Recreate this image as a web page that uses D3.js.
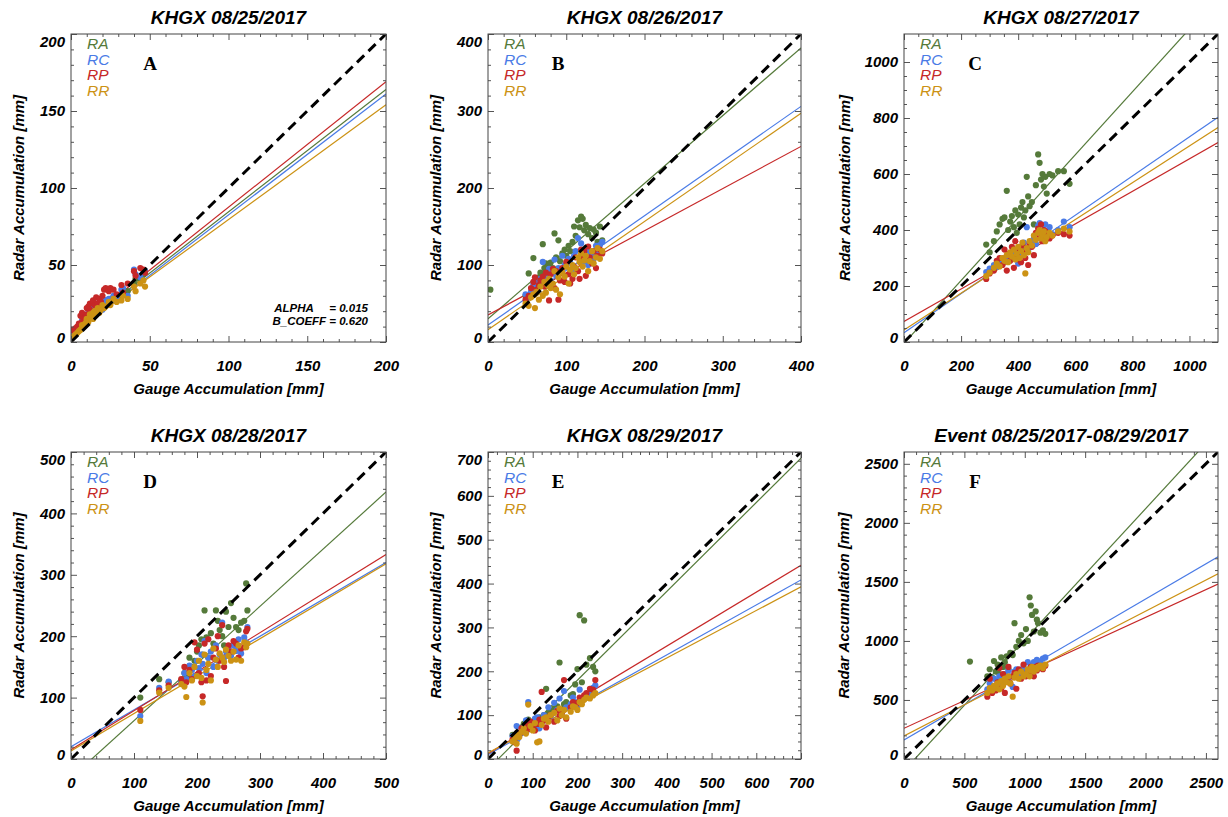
<!DOCTYPE html>
<html lang="en">
<head>
<meta charset="utf-8">
<title>Radar vs Gauge Accumulation - KHGX</title>
<script src="https://d3js.org/d3.v7.min.js"></script>
<style>
  body { margin: 0; background: #fff; }
  text { font-family: "Liberation Sans", Arial, Helvetica, sans-serif; }
</style>
</head>
<body>
<script>
var w = 1228, h = 817;

var seriesNames = ["RA", "RC", "RP", "RR"];
var seriesColors = ["#557a3a", "#4a7be6", "#c62828", "#cc9214"];

var titles = ["KHGX 08/25/2017", "KHGX 08/26/2017", "KHGX 08/27/2017",
              "KHGX 08/28/2017", "KHGX 08/29/2017", "Event 08/25/2017-08/29/2017"];
var letters = ["A", "B", "C", "D", "E", "F"];
var axisMax = [200, 400, 1100, 500, 700, 2600];
var majorStep = [50, 100, 200, 100, 100, 500];
var minorStep = [10, 20, 50, 20, 20, 100];
var noteLines = ["ALPHA     = 0.015", "B_COEFF = 0.620"];

// ---- panel A (08/25) ----
var gaugeA = [1, 2, 3, 4, 5, 6, 7, 7, 8, 9, 10, 10, 11, 12, 12, 13, 14, 14, 15, 16, 17, 18, 19, 20, 21, 22, 24, 25, 27, 29, 32, 33, 36, 40, 41, 44, 46, 47];
var raA = [4, 5, 6, 7, 8, 8, 10, 12, 11, 13, 14, 16, 15, 17, 19, 18, 20, 16, 21, 19, 22, 20, 24, 23, 25, 27, 26, 28, 29, 27, 30, 31, 33, 38, 41, 40, 44, 45];
var rcA = [5, 6, 5, 8, 9, 10, 9, 14, 12, 12, 15, 18, 17, 22, 16, 24, 19, 21, 23, 18, 25, 22, 24, 21, 26, 27, 28, 27, 30, 29, 34, 35, 30, 47, 44, 42, 45, 46];
var rpA = [8, 7, 9, 10, 12, 17, 13, 19, 15, 16, 18, 22, 23, 21, 25, 20, 26, 27, 24, 29, 25, 28, 26, 30, 34, 35, 33, 35, 34, 31, 37, 32, 38, 46, 43, 48, 47, 45];
var rrA = [3, 4, 5, 6, 7, 8, 9, 11, 10, 12, 14, 15, 13, 16, 18, 17, 19, 15, 20, 18, 22, 19, 21, 24, 22, 23, 26, 24, 28, 26, 27, 30, 28, 36, 33, 38, 40, 36];
var fitA = [[5, 0.795], [4, 0.785], [6, 0.815], [5, 0.745]];   // [intercept, slope] RA RC RP RR

// ---- panel B (08/26) ----
var gaugeB = [3, 48, 52, 55, 58, 60, 62, 65, 67, 70, 72, 74, 76, 78, 80, 83, 85, 87, 90, 92, 95, 98, 100, 103, 105, 108, 110, 112, 115, 117, 119, 121, 123, 125, 128, 130, 133, 135, 138, 140, 143, 146];
var raB = [68, 60, 89, 62, 109, 72, 80, 84, 90, 127, 96, 102, 92, 99, 103, 96, 141, 110, 132, 105, 115, 120, 112, 125, 118, 130, 150, 138, 158, 149, 163, 160, 145, 152, 140, 148, 135, 146, 142, 130, 150, 132];
var rcB = [null, 62, 58, 66, 75, 70, 78, 72, 82, 104, 76, 84, 88, 95, 80, 90, 107, 86, 96, 92, 112, 100, 98, 108, 103, 92, 112, 118, 135, 110, 128, 115, 105, 120, 100, 118, 112, 108, 125, 115, 126, 130];
var rpB = [null, 55, 60, 70, 78, 84, 68, 74, 80, 85, 72, 90, 76, 54, 88, 95, 70, 92, 55, 80, 96, 78, 104, 88, 76, 82, 98, 110, 92, 82, 120, 108, 118, 86, 124, 110, 102, 118, 96, 112, 120, 115];
var rrB = [null, 50, 47, 58, 62, 44, 65, 55, 72, 60, 78, 64, 74, 82, 70, 76, 92, 68, 84, 62, 90, 85, 98, 76, 94, 100, 88, 96, 110, 104, 115, 98, 106, 112, 92, 105, 118, 102, 110, 122, 108, 118];
var fitB = [[30, 0.88], [22, 0.71], [35, 0.5475], [16, 0.7025]];

// ---- panel C (08/27) ----
var gaugeC = [288, 300, 315, 325, 335, 345, 352, 360, 365, 372, 378, 385, 390, 395, 400, 405, 410, 415, 420, 425, 430, 435, 440, 448, 455, 462, 470, 475, 480, 485, 490, 495, 500, 510, 520, 540, 560, 580];
var raC = [348, 320, 360, 395, 420, 440, 445, 540, 400, 430, 450, 410, 470, 390, 455, 420, 480, 500, 445, 470, 590, 520, 485, 500, 420, 560, 670, 640, 580, 600, 555, 590, 530, 600, 595, 610, 610, 565];
var rcC = [250, 262, 275, 268, 290, 285, 300, 295, 310, 305, 320, 312, 300, 330, 280, 322, 340, 315, 355, 335, 410, 325, 345, 360, 370, 350, 415, 425, 390, 380, 400, 420, 395, 410, 385, 400, 430, 410];
var rpC = [225, 245, 255, 290, 300, 275, 330, 255, 315, 290, 340, 265, 360, 310, 295, 330, 285, 345, 320, 300, 325, 275, 350, 340, 310, 390, 405, 380, 420, 360, 400, 395, 375, 370, 380, 390, 385, 380];
var rrC = [235, 248, 265, 280, 270, 300, 290, 310, 285, 320, 305, 330, 295, 315, 340, 300, 325, 355, 310, 245, 335, 320, 360, 345, 380, 365, 390, 400, 370, 385, 395, 360, 375, 390, 380, 395, 405, 395];
var fitC = [[-5, 1.123], [33, 0.70], [73, 0.581], [43, 0.657]];

// ---- panel D (08/28) ----
var gaugeD = [110, 140, 155, 175, 180, 183, 188, 192, 196, 200, 203, 207, 209, 212, 215, 218, 222, 226, 230, 233, 236, 240, 243, 246, 250, 254, 258, 262, 266, 270, 275, 278, 280];
var raD = [100, 130, 125, 128, 140, 135, 165, 150, 160, 175, 185, 195, 170, 242, 198, 165, 205, 188, 242, 225, 210, 200, 185, 240, 215, 254, 230, 215, 210, 222, 225, 286, 242];
var rcD = [70, 116, 126, 125, 140, 130, 152, 145, 135, 160, 148, 170, 155, 192, 140, 165, 175, 150, 185, 160, 170, 222, 165, 175, 180, 168, 185, 176, 195, 172, 198, 190, 215];
var rpD = [80, 112, 120, 130, 150, 125, 145, 130, 190, 178, 140, 125, 102, 188, 128, 195, 135, 165, 180, 200, 160, 218, 150, 127, 185, 175, 192, 188, 165, 180, 182, 208, 212];
var rrD = [62, 108, 116, 122, 118, 101, 140, 128, 150, 135, 160, 132, 92, 170, 145, 155, 128, 180, 162, 150, 172, 165, 158, 178, 168, 160, 175, 162, 185, 160, 190, 182, 188];
var fitD = [[-30.7, 0.931], [20, 0.60], [15, 0.636], [13, 0.61]];

// ---- panel E (08/29) ----
var gaugeE = [55, 60, 64, 66, 70, 75, 80, 85, 90, 95, 100, 105, 110, 115, 120, 125, 130, 135, 140, 148, 155, 160, 165, 170, 175, 185, 190, 195, 200, 205, 210, 215, 220, 228, 235, 240];
var raE = [55, 50, 45, 60, 58, 72, 80, 68, 90, 85, 82, 88, 70, 95, 92, 100, 160, 105, 110, 115, 120, 220, 112, 125, 130, 145, 148, 170, 205, 328, 175, 316, 215, 230, 210, 200];
var rcE = [52, 48, 75, 45, 60, 65, 72, 88, 130, 80, 76, 92, 95, 70, 85, 100, 90, 118, 98, 128, 112, 138, 105, 155, 118, 125, 140, 130, 120, 158, 135, 142, 148, 150, 162, 168];
var rpE = [45, 38, 19, 60, 55, 70, 62, 78, 68, 85, 72, 65, 80, 90, 153, 88, 72, 95, 100, 85, 110, 98, 105, 180, 92, 118, 130, 120, 128, 140, 132, 145, 150, 160, 158, 180];
var rrE = [40, 48, 35, 55, 50, 62, 70, 58, 124, 75, 65, 82, 38, 40, 78, 92, 95, 85, 100, 105, 88, 115, 100, 112, 95, 108, 120, 118, 112, 130, 125, 135, 140, 138, 145, 150];
var fitE = [[-23, 1.013], [10, 0.569], [12, 0.614], [14, 0.541]];

// ---- panel F (whole event) ----
var gaugeF = [546, 690, 710, 730, 745, 760, 775, 790, 805, 820, 835, 850, 865, 880, 900, 915, 930, 950, 970, 990, 1010, 1025, 1040, 1050, 1060, 1075, 1090, 1100, 1110, 1130, 1150, 1170];
var raF = [825, 700, 760, 690, 830, 740, 800, 720, 860, 780, 820, 870, 760, 900, 880, 1150, 950, 1000, 1050, 980, 1100, 1000, 1370, 1300, 1220, 1080, 1250, 1180, 1150, 1070, 1090, 1060];
var rcF = [null, 590, 640, 600, 680, 620, 660, 700, 640, 690, 720, 660, 750, 700, 610, 740, 760, 720, 690, 780, 750, 820, 740, 790, 770, 820, 800, 840, 830, 810, 850, 860];
var rpF = [null, 528, 680, 560, 610, 580, 650, 770, 600, 720, 560, 680, 780, 640, 700, 730, 595, 760, 680, 800, 700, 740, 720, 780, 760, 700, 780, 750, 790, 770, 760, 790];
var rrF = [null, 560, 600, 580, 620, 600, 640, 590, 660, 620, 680, 650, 700, 640, 528, 690, 720, 680, 740, 700, 720, 760, 700, 750, 780, 740, 770, 760, 780, 790, 770, 800];
var fitF = [[-98.7, 1.109], [161, 0.597], [260, 0.470], [195, 0.528]];

var panels = [
  { gauge: gaugeA, radar: [raA, rcA, rpA, rrA], fit: fitA },
  { gauge: gaugeB, radar: [raB, rcB, rpB, rrB], fit: fitB },
  { gauge: gaugeC, radar: [raC, rcC, rpC, rrC], fit: fitC },
  { gauge: gaugeD, radar: [raD, rcD, rpD, rrD], fit: fitD },
  { gauge: gaugeE, radar: [raE, rcE, rpE, rrE], fit: fitE },
  { gauge: gaugeF, radar: [raF, rcF, rpF, rrF], fit: fitF }
];

// layout of the 3x2 grid (pixels)
var colLeft = [71, 488, 904];
var colWidth = [315, 313, 314];
var rowTop = [34, 452];
var rowHeight = [308, 307];
var letterDx = [79, 70, 71];

var svg = d3.select("body")
            .append("svg")
            .attr("width", w)
            .attr("height", h);

svg.append("rect").attr("width", w).attr("height", h).attr("fill", "#fff");

panels.forEach(function(p, i) {
  var col = i % 3, row = Math.floor(i / 3);
  var pw = colWidth[col], ph = rowHeight[row];
  var max = axisMax[i];

  var xScale = d3.scaleLinear().domain([0, max]).range([0, pw]);
  var yScale = d3.scaleLinear().domain([0, max]).range([ph, 0]);

  var g = svg.append("g")
             .attr("transform", "translate(" + colLeft[col] + "," + rowTop[row] + ")");

  g.append("clipPath").attr("id", "clip" + i)
    .append("rect").attr("width", pw).attr("height", ph);

  var plot = g.append("g").attr("clip-path", "url(#clip" + i + ")");

  // regression lines first, the dots sit on top of them
  plot.selectAll("line.fit")
      .data(p.fit)
      .enter()
      .append("line")
      .attr("class", "fit")
      .attr("x1", xScale(0))
      .attr("y1", function(d) { return yScale(d[0]); })
      .attr("x2", xScale(max))
      .attr("y2", function(d) { return yScale(d[0] + d[1] * max); })
      .attr("stroke", function(d, s) { return seriesColors[s]; })
      .attr("stroke-width", 1.2);

  p.radar.forEach(function(vals, s) {
    var pts = p.gauge.map(function(gv, k) { return [gv, vals[k]]; })
                     .filter(function(d) { return d[1] != null; });
    plot.selectAll("circle.s" + s)
        .data(pts)
        .enter()
        .append("circle")
        .attr("class", "s" + s)
        .attr("cx", function(d) { return xScale(d[0]); })
        .attr("cy", function(d) { return yScale(d[1]); })
        .attr("r", 3.1)
        .attr("fill", seriesColors[s]);
  });

  // 1:1 line
  plot.append("line")
      .attr("x1", xScale(0)).attr("y1", yScale(0))
      .attr("x2", xScale(max)).attr("y2", yScale(max))
      .attr("stroke", "#000")
      .attr("stroke-width", 3)
      .attr("stroke-dasharray", "10,6");

  // axes, ticks inside on all four sides
  var majors = d3.range(0, max + 1, majorStep[i]);
  var minors = d3.range(0, max, minorStep[i]).filter(function(v) { return v % majorStep[i] !== 0; });

  function addAxis(axis, tr) {
    var a = g.append("g").attr("transform", tr).call(axis);
    a.select(".domain").remove();
    a.selectAll(".tick line").attr("stroke", "#555");
    a.attr("font-family", null).attr("font-size", null);
    a.selectAll("text")
     .attr("fill", "#000")
     .style("font-size", "15px")
     .style("font-weight", "bold")
     .style("font-style", "italic");
    return a;
  }

  addAxis(d3.axisBottom(xScale).tickValues(majors).tickSize(-6).tickPadding(18).tickFormat(d3.format("d")),
          "translate(0," + ph + ")");
  addAxis(d3.axisBottom(xScale).tickValues(minors).tickSize(-3).tickFormat(""), "translate(0," + ph + ")");
  addAxis(d3.axisTop(xScale).tickValues(majors).tickSize(-6).tickFormat(""), "translate(0,0)");
  addAxis(d3.axisTop(xScale).tickValues(minors).tickSize(-3).tickFormat(""), "translate(0,0)");
  var left = addAxis(d3.axisLeft(yScale).tickValues(majors).tickSize(-6).tickPadding(6).tickFormat(d3.format("d")),
                     "translate(0,0)");
  addAxis(d3.axisLeft(yScale).tickValues(minors).tickSize(-3).tickFormat(""), "translate(0,0)");
  addAxis(d3.axisRight(yScale).tickValues(majors).tickSize(-6).tickFormat(""), "translate(" + pw + ",0)");
  addAxis(d3.axisRight(yScale).tickValues(minors).tickSize(-3).tickFormat(""), "translate(" + pw + ",0)");

  // end labels of the y axis are nudged inside the frame
  left.selectAll(".tick text")
      .attr("y", function(d) { return d === max ? 8 : (d === 0 ? -4 : 0); });

  g.append("rect")
    .attr("width", pw).attr("height", ph)
    .attr("fill", "none")
    .attr("stroke", "#444")
    .attr("stroke-width", 1);

  // titles
  g.append("text")
    .attr("x", pw / 2).attr("y", -10)
    .attr("text-anchor", "middle")
    .style("font-size", "19px").style("font-weight", "bold").style("font-style", "italic")
    .text(titles[i]);

  g.append("text")
    .attr("x", pw / 2).attr("y", ph + 52)
    .attr("text-anchor", "middle")
    .style("font-size", "15px").style("font-weight", "bold").style("font-style", "italic")
    .text("Gauge Accumulation [mm]");

  var lb = left.node().getBBox();
  g.append("text")
    .attr("transform", "translate(" + (lb.x - 15) + "," + (ph / 2) + ") rotate(-90)")
    .attr("text-anchor", "middle")
    .style("font-size", "15px").style("font-weight", "bold").style("font-style", "italic")
    .text("Radar Accumulation [mm]");

  // legend
  g.selectAll("text.legend")
    .data(seriesNames)
    .enter()
    .append("text")
    .attr("class", "legend")
    .attr("x", 16)
    .attr("y", function(d, k) { return 15 + k * 15.7; })
    .attr("fill", function(d, k) { return seriesColors[k]; })
    .style("font-size", "15.5px").style("font-style", "italic")
    .text(function(d) { return d; });

  g.append("text")
    .attr("x", letterDx[col]).attr("y", 36)
    .attr("text-anchor", "middle")
    .style("font-family", "'Liberation Serif', 'Times New Roman', serif")
    .style("font-size", "19px").style("font-weight", "bold")
    .text(letters[i]);

  if (i === 0) {
    g.selectAll("text.note")
      .data(noteLines)
      .enter()
      .append("text")
      .attr("class", "note")
      .attr("x", 297)
      .attr("y", function(d, k) { return 278 + k * 13; })
      .attr("text-anchor", "end")
      .style("white-space", "pre")
      .style("font-size", "11.5px").style("font-weight", "bold").style("font-style", "italic")
      .text(function(d) { return d; });
  }
});
</script>
</body>
</html>
